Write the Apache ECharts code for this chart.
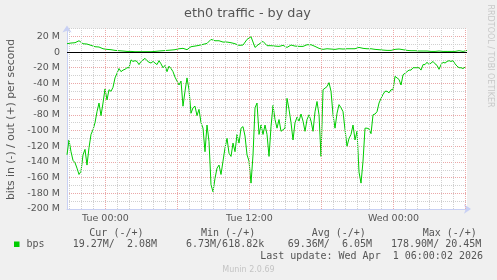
<!DOCTYPE html>
<html><head><meta charset="utf-8">
<script src="https://cdn.jsdelivr.net/npm/echarts@6/dist/echarts.min.js"></script>
<style>html,body{margin:0;padding:0;background:#F0F0F0}#c{width:497px;height:280px}</style>
</head><body><div id="c"></div>
<script>
// time axis: hours relative to Tue 00:00
const startHour = -3.2;
const endHour = 30.13;
const inStepHours = 1 / 6;   // 10 minute samples
const outStepHours = 1 / 3;  // 20 minute samples

// bits in (negative side), M bits/s
const inValues = [
  -131,-112,-127,-138,-141,-148,-156,-152,-131,-124,-144,-122,-105,-99,-90,-76,-65,-81,-65,-47,
  -61,-48,-50,-45,-33,-27,-21,-25,-23,-22,-20,-20,-10,-12,-11,-12,-16,-12,-10,-8,
  -11,-13,-14,-12,-14,-16,-11,-15,-20,-17,-25,-18,-21,-25,-32,-37,-42,-37,-69,-50,
  -33,-48,-78,-71,-69,-81,-73,-90,-97,-127,-93,-114,-169,-178,-161,-148,-144,-156,-139,-122,
  -110,-129,-133,-116,-127,-105,-116,-97,-95,-107,-131,-139,-167,-131,-71,-65,-105,-93,-105,-93,
  -105,-133,-95,-68,-86,-97,-86,-101,-99,-97,-59,-73,-90,-112,-90,-83,-88,-79,-88,-101,
  -86,-80,-88,-101,-76,-63,-80,-133,-48,-46,-44,-39,-50,-80,-97,-78,-67,-71,-76,-99,
  -120,-110,-105,-93,-112,-101,-153,-167,-139,-97,-97,-98,-104,-80,-79,-76,-65,-59,-54,-50,
  -50,-52,-48,-48,-31,-33,-35,-42,-29,-27,-25,-23,-23,-20,-20,-20,-20,-23,-16,-16,
  -13,-16,-14,-12,-15,-17,-22,-16,-13,-14,-12,-11,-12,-11,-15,-18,-20,-20,-21,-19.3
];
// bits out (positive side), M bits/s
const outValues = [
  10.6,11.5,11.9,14.4,10.6,10.2,8.5,6.8,6.4,4.2,3.4,3.0,2.1,1.7,1.3,0.8,0.8,0.4,0.4,0.4,
  0.4,0.4,0.8,1.3,1.7,2.1,2.5,3.0,4.2,4.7,3.0,6.8,7.6,8.5,9.8,11.0,16.1,14.4,14.4,12.7,
  12.7,11.9,10.6,8.5,8.9,16.1,19.5,5.9,10.2,13.6,8.1,8.1,7.6,7.2,8.5,5.9,8.9,7.6,7.2,7.2,
  9.3,9.3,7.2,4.7,3.4,4.2,3.8,3.4,4.2,3.8,4.2,4.2,4.2,5.9,4.7,4.2,4.2,3.4,3.0,2.5,
  2.1,2.1,3.4,3.8,3.0,2.1,1.7,1.7,1.3,1.3,1.3,0.8,0.8,1.3,0.8,0.8,0.8,0.8,1.7,0.8,2.1
];

const xTickHours = [0, 12, 24];
const xTickLabels = ['Tue 00:00', 'Tue 12:00', 'Wed 00:00'];
const yTickValues = [20, 0, -20, -40, -60, -80, -100, -120, -140, -160, -180, -200];
const yTickLabels = ['20 M', '0', '-20 M', '-40 M', '-60 M', '-80 M', '-100 M', '-120 M', '-140 M', '-160 M', '-180 M', '-200 M'];
const majorGridHours = [0, 6, 12, 18, 24, 30];
const minorGridHours = [];
for (let h = -3; h <= 29; h++) if (h % 6 !== 0) minorGridHours.push(h);

const legendHeaders = ['Cur (-/+)', 'Min (-/+)', 'Avg (-/+)', 'Max (-/+)'];
const legendValues = ['19.27M/  2.08M', '6.73M/618.82k', '69.36M/  6.05M', '178.90M/ 20.45M'];
const headerX = [89.3, 201, 311.7, 422.7];
const valueX = [72.7, 186, 287.7, 391];

const GREEN = '#00CC00';
const TXT = '#555555';
const inData = inValues.map((v, i) => [startHour + i * inStepHours, v]);
const outData = outValues.map((v, i) => [startHour + i * outStepHours, v]);

const chart = echarts.init(document.getElementById('c'));
const graphics = [
  {type:'text', x:247.5, y:13.5, style:{text:'eth0 traffic - by day', fill:TXT, font:'12.8px "DejaVu Sans"', textAlign:'center', textVerticalAlign:'middle', align:'center', verticalAlign:'middle'}},
  {type:'text', x:11, y:119.5, rotation:Math.PI/2, style:{text:'bits in (-) / out (+) per second', fill:TXT, font:'10.8px "DejaVu Sans"', textAlign:'center', textVerticalAlign:'middle', align:'center', verticalAlign:'middle'}},
  {type:'text', x:490, y:56, rotation:-Math.PI/2, style:{text:'RRDTOOL / TOBI OETIKER', fill:'#c8c8c8', font:'8px "DejaVu Sans"', textAlign:'center', textVerticalAlign:'middle', align:'center', verticalAlign:'middle'}},
  {type:'rect', shape:{x:14, y:241.5, width:5.5, height:5.5}, style:{fill:GREEN}},
  {type:'text', x:26.5, y:244.5, style:{text:'bps', fill:TXT, font:'10px "DejaVu Sans Mono"', textAlign:'left', textVerticalAlign:'middle', align:'left', verticalAlign:'middle'}},
  {type:'text', x:483, y:256.7, style:{text:'Last update: Wed Apr  1 06:00:02 2026', fill:TXT, font:'10px "DejaVu Sans Mono"', textAlign:'right', textVerticalAlign:'middle', align:'right', verticalAlign:'middle'}},
  {type:'text', x:248.5, y:269.5, style:{text:'Munin 2.0.69', fill:'#c4c4c4', font:'8px "DejaVu Sans"', textAlign:'center', textVerticalAlign:'middle', align:'center', verticalAlign:'middle'}}
];
legendHeaders.forEach((t, k) => graphics.push({type:'text', x:headerX[k], y:233, style:{text:t, fill:TXT, font:'10px "DejaVu Sans Mono"', textAlign:'left', textVerticalAlign:'middle', align:'left', verticalAlign:'middle'}}));
legendValues.forEach((t, k) => graphics.push({type:'text', x:valueX[k], y:244.5, style:{text:t, fill:TXT, font:'10px "DejaVu Sans Mono"', textAlign:'left', textVerticalAlign:'middle', align:'left', verticalAlign:'middle'}}));

chart.setOption({
  animation: false,
  backgroundColor: '#F0F0F0',
  grid: {left:67, right:30, top:28.5, bottom:71, show:true, backgroundColor:'#FFFFFF', borderWidth:0},
  xAxis: {
    type:'value', min:startHour, max:endHour,
    axisLine:{show:true, onZero:false, lineStyle:{color:'#C8D0F4', width:1}, symbol:['none','arrow'], symbolSize:[7,7], symbolOffset:[0,4]},
    axisTick:{show:false}, splitLine:{show:false},
    axisLabel:{customValues:xTickHours, color:TXT, fontSize:9.5, fontFamily:'DejaVu Sans', margin:5,
      formatter:(v) => { const k = xTickHours.indexOf(Math.round(v)); return k >= 0 ? xTickLabels[k] : ''; }}
  },
  yAxis: {
    type:'value', min:-200, max:30, interval:10,
    axisLine:{show:true, onZero:false, lineStyle:{color:'#C8D0F4', width:1}, symbol:['none','arrow'], symbolSize:[7,7], symbolOffset:[0,3]},
    axisTick:{show:false},
    axisLabel:{color:TXT, fontSize:9.5, fontFamily:'DejaVu Sans', margin:7,
      formatter:(v) => { const k = yTickValues.indexOf(Math.round(v)); return k >= 0 ? yTickLabels[k] : ''; }},
    splitLine:{show:true, lineStyle:{color:['#EBA8A8', '#D0D0D0'], type:[1,1], width:1}}
  },
  series: [
    {type:'line', data:[], z:1, silent:true,
      markLine:{silent:true, symbol:'none', label:{show:false}, animation:false,
        lineStyle:{color:'#D0D0D0', type:[1,1], width:1},
        data: minorGridHours.map(h => ({xAxis:h}))}},
    {type:'line', data:[], z:1, silent:true,
      markLine:{silent:true, symbol:'none', label:{show:false}, animation:false,
        lineStyle:{color:'#EBA8A8', type:[1,1], width:1},
        data: majorGridHours.map(h => ({xAxis:h}))}},
    {type:'line', data:[], z:2, silent:true,
      markLine:{silent:true, symbol:'none', label:{show:false}, animation:false,
        lineStyle:{color:'#000000', type:'solid', width:1.2},
        data:[{yAxis:0}]}},
    {name:'in', type:'line', data:inData, showSymbol:false, z:3, lineStyle:{color:GREEN, width:1}, itemStyle:{color:GREEN}},
    {name:'out', type:'line', data:outData, showSymbol:false, z:3, lineStyle:{color:GREEN, width:1}, itemStyle:{color:GREEN}}
  ],
  graphic: graphics
});
</script></body></html>
